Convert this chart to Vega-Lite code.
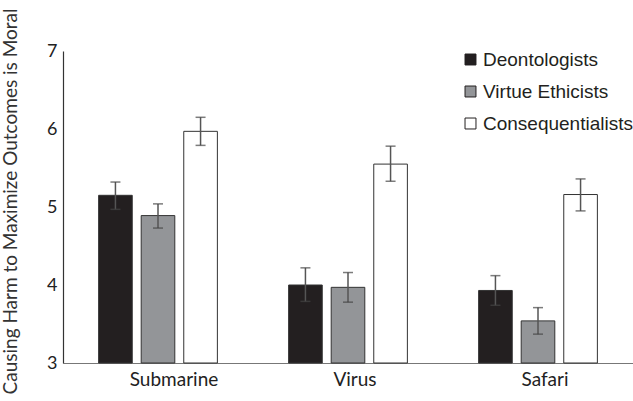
{
  "$schema": "https://vega.github.io/schema/vega-lite/v6.json",
  "autosize": "none",
  "width": 570,
  "height": 312,
  "padding": {"left": 63, "top": 51, "right": 0, "bottom": 38},
  "background": "white",
  "config": {"view": {"stroke": null}},
  "data": {
    "values": [
      {"scenario": "Submarine", "group": "Deontologists", "mean": 5.15, "lo": 4.97, "hi": 5.32},
      {"scenario": "Submarine", "group": "Virtue Ethicists", "mean": 4.89, "lo": 4.73, "hi": 5.04},
      {"scenario": "Submarine", "group": "Consequentialists", "mean": 5.97, "lo": 5.79, "hi": 6.15},
      {"scenario": "Virus", "group": "Deontologists", "mean": 4.0, "lo": 3.79, "hi": 4.22},
      {"scenario": "Virus", "group": "Virtue Ethicists", "mean": 3.97, "lo": 3.78, "hi": 4.16},
      {"scenario": "Virus", "group": "Consequentialists", "mean": 5.55, "lo": 5.33, "hi": 5.78},
      {"scenario": "Safari", "group": "Deontologists", "mean": 3.93, "lo": 3.74, "hi": 4.12},
      {"scenario": "Safari", "group": "Virtue Ethicists", "mean": 3.54, "lo": 3.37, "hi": 3.71},
      {"scenario": "Safari", "group": "Consequentialists", "mean": 5.16, "lo": 4.95, "hi": 5.36}
    ]
  },
  "encoding": {
    "x": {
      "field": "scenario", "type": "nominal",
      "sort": ["Submarine", "Virus", "Safari"],
      "scale": {"paddingInner": 0.375, "paddingOuter": 0.1875},
      "axis": {
        "title": null, "labelAngle": 0, "ticks": false,
        "labelFont": "Lato", "labelFontSize": 19, "labelColor": "#222",
        "labelOffset": {"expr": "datum.value === 'Submarine' ? 16 : 7"},
        "labelPadding": 7, "domainColor": "#777", "domainWidth": 1.2
      }
    },
    "xOffset": {
      "field": "group", "type": "nominal",
      "sort": ["Deontologists", "Virtue Ethicists", "Consequentialists"],
      "scale": {"paddingInner": 0.21, "paddingOuter": 0}
    }
  },
  "layer": [
    {
      "mark": {"type": "bar", "stroke": "#333", "strokeWidth": 1},
      "encoding": {
        "y": {
          "field": "mean", "type": "quantitative",
          "scale": {"domain": [3, 7], "zero": false, "nice": false},
          "axis": {
            "title": "Causing Harm to Maximize Outcomes is Moral",
            "titleFont": "Lato", "titleFontSize": 19, "titleFontWeight": "normal",
            "titleColor": "#333", "titleX": -47, "titleY": 150, "titleBaseline": "alphabetic",
            "values": [3, 4, 5, 6, 7], "format": "d", "grid": false, "ticks": false,
            "labelFont": "Lato", "labelFontSize": 18, "labelColor": "#222",
            "labelPadding": 6, "domainColor": "#333", "domainWidth": 1.2
          }
        },
        "y2": {"datum": 3},
        "fill": {
          "field": "group", "type": "nominal",
          "sort": ["Deontologists", "Virtue Ethicists", "Consequentialists"],
          "scale": {
            "domain": ["Deontologists", "Virtue Ethicists", "Consequentialists"],
            "range": ["#231f20", "#939598", "#ffffff"]
          },
          "legend": {
            "title": null, "orient": "none", "legendX": 398, "legendY": -1,
            "symbolType": "square", "symbolSize": 120,
            "symbolStrokeColor": "#231f20", "symbolStrokeWidth": 1,
            "labelFont": "Liberation Sans", "labelFontSize": 19, "labelColor": "#231f20",
            "labelOffset": 3, "rowPadding": 12, "labelLimit": 300
          }
        }
      }
    },
    {
      "mark": {"type": "rule", "color": "#555", "strokeWidth": 1.5},
      "encoding": {
        "y": {"field": "lo", "type": "quantitative"},
        "y2": {"field": "hi"}
      }
    },
    {
      "mark": {"type": "tick", "color": "#444", "size": 10, "thickness": 1.5},
      "encoding": {"y": {"field": "lo", "type": "quantitative"}}
    },
    {
      "mark": {"type": "tick", "color": "#444", "size": 10, "thickness": 1.5},
      "encoding": {"y": {"field": "hi", "type": "quantitative"}}
    }
  ]
}
